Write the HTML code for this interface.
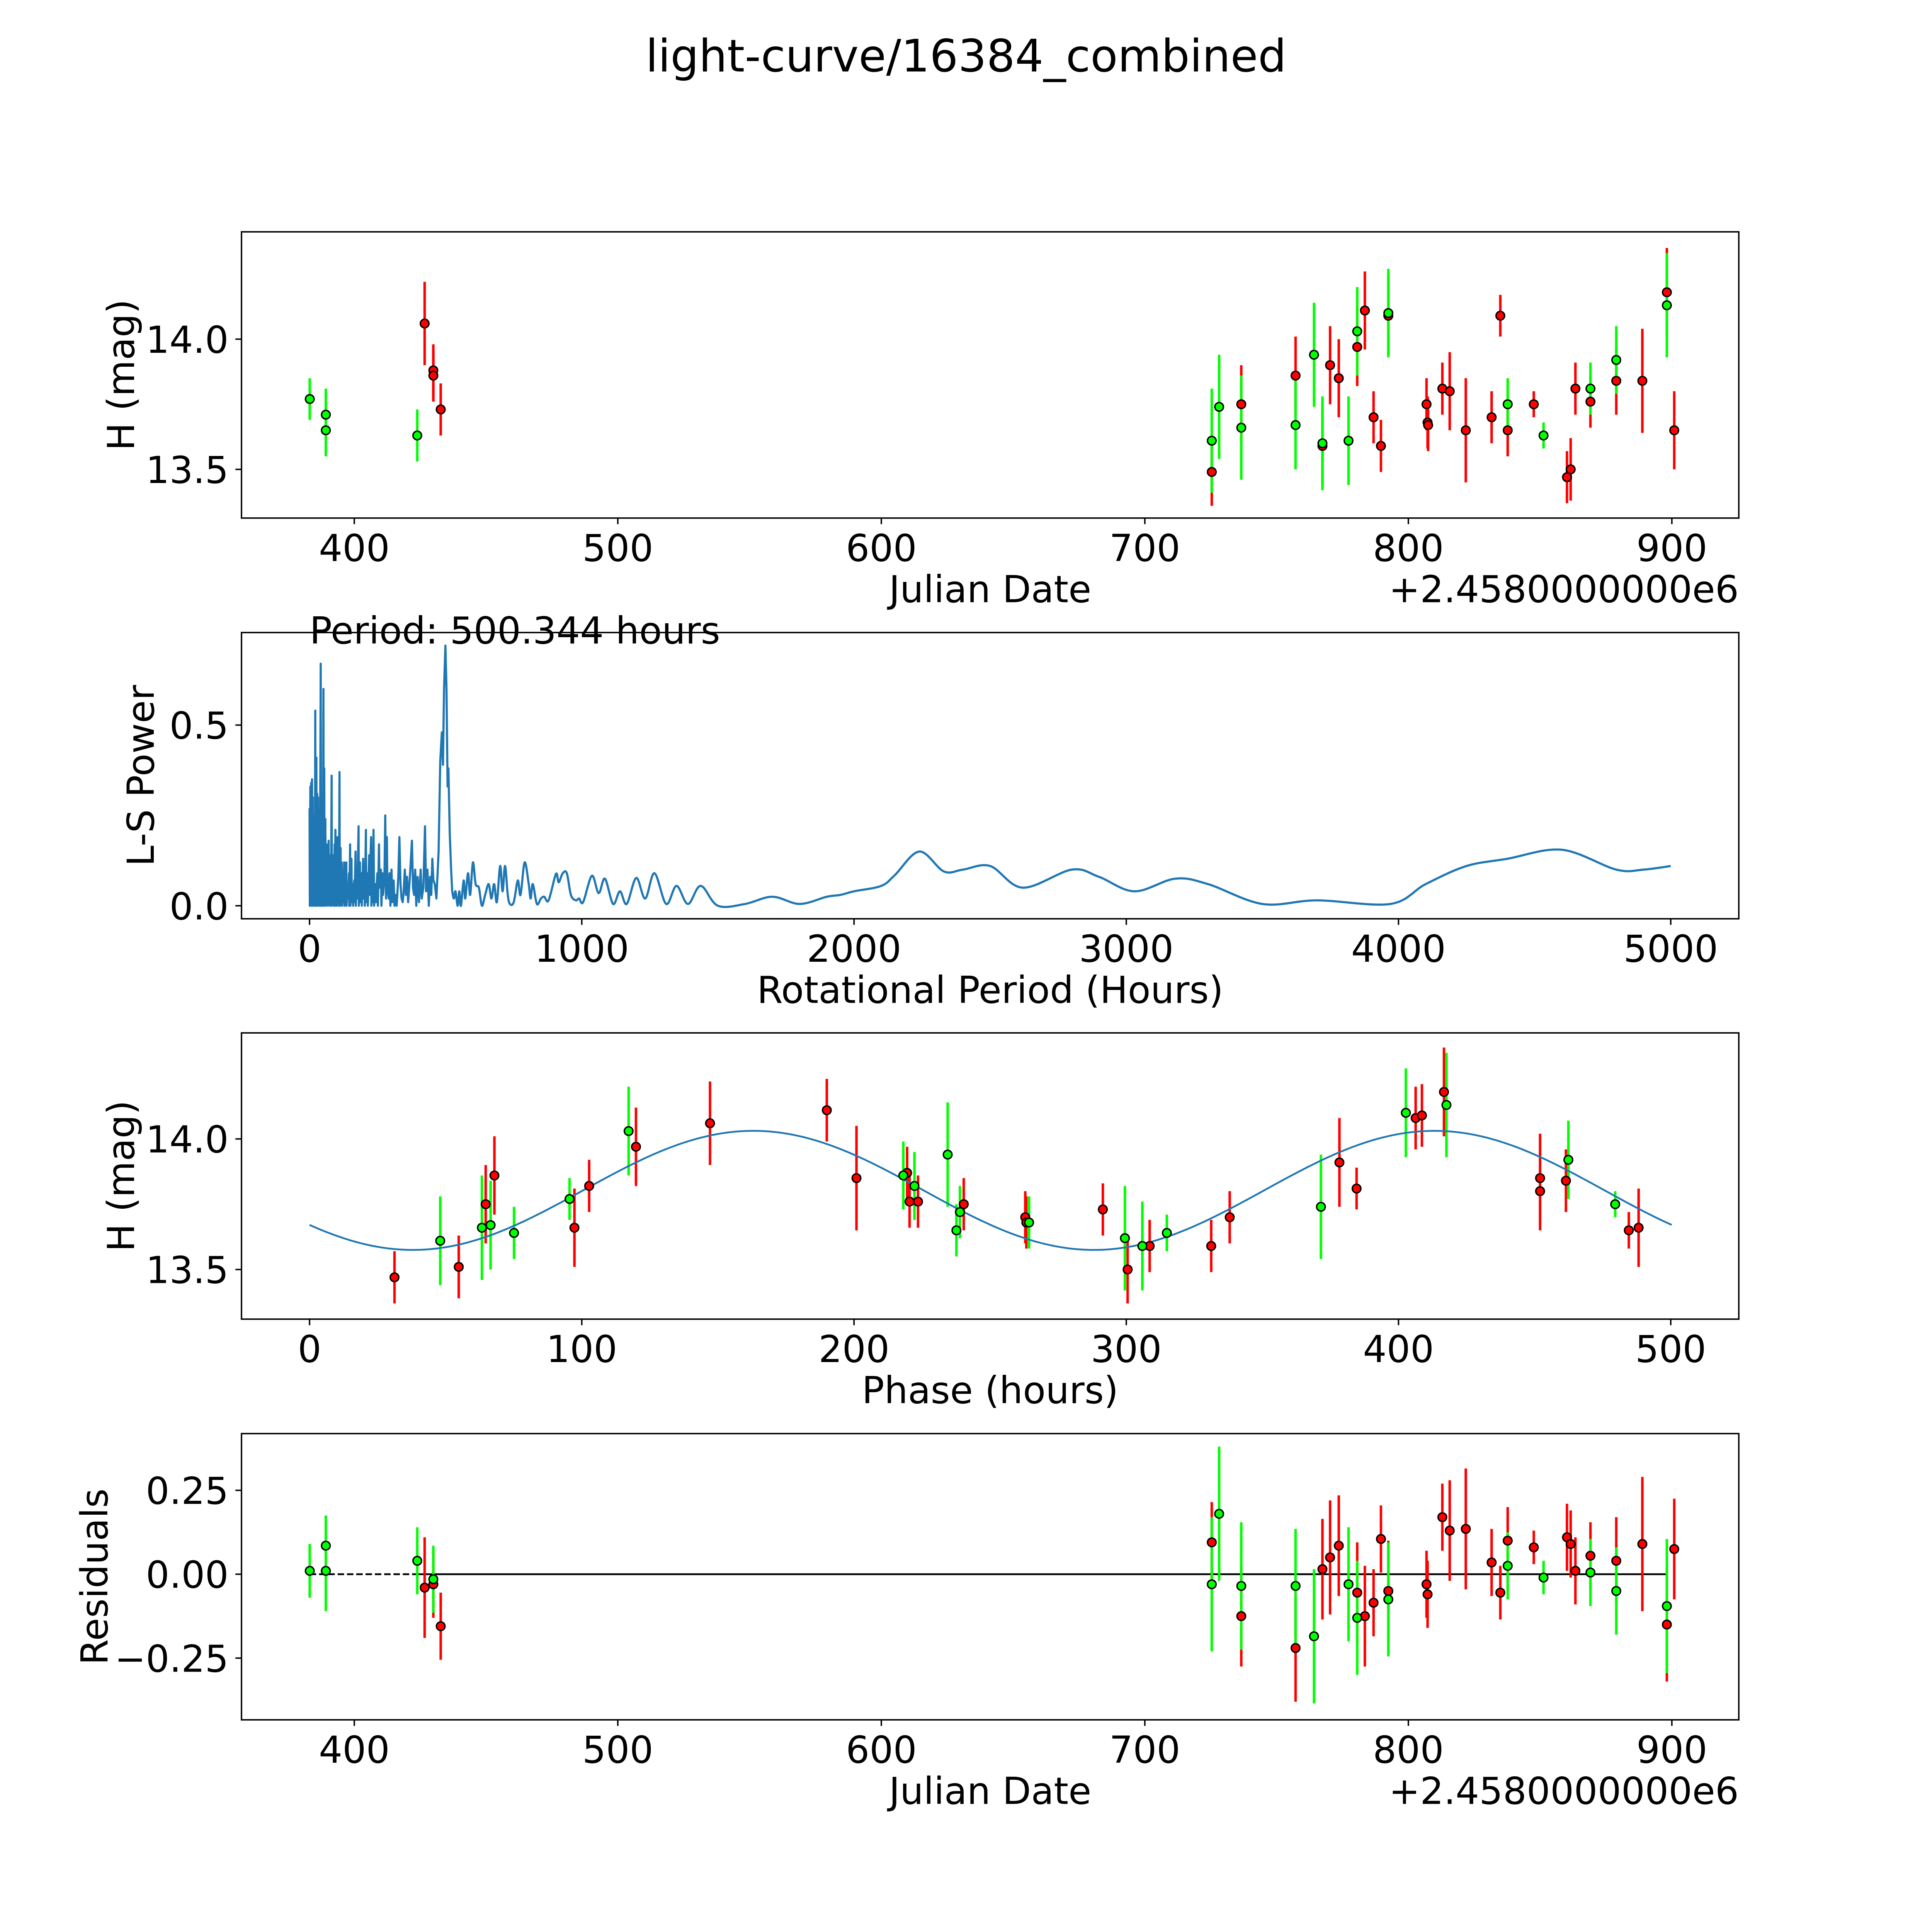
<!DOCTYPE html>
<html><head><meta charset="utf-8">
<style>
html,body{margin:0;padding:0;background:#fff;overflow:hidden;width:100%;height:100%;}
svg{display:block;position:fixed;left:0;top:0;width:100vw;height:100vh;}
text{font-family:"DejaVu Sans","Liberation Sans",sans-serif;fill:#000;}
</style></head>
<body>
<svg id="fig" xmlns="http://www.w3.org/2000/svg" viewBox="0 0 5400 5400" preserveAspectRatio="none">
<rect x="0" y="0" width="5400" height="5400" fill="#fff"/>
<text x="2700" y="200" text-anchor="middle" font-size="125">light-curve/16384_combined</text>
</svg>
<script>
// ---- Panel 1: light curve data ----
const greenJD  = [383.1,389.2,389.2,423.9,725.4,728.2,736.6,757.2,764.2,767.4,777.3,780.6,792.4,837.7,851.3,869.1,878.9,898.1];
const greenMag = [13.77,13.71,13.65,13.63,13.61,13.74,13.66,13.67,13.94,13.60,13.61,14.03,14.10,13.75,13.63,13.81,13.92,14.13];
const greenErr = [0.08,0.1,0.1,0.1,0.2,0.2,0.2,0.17,0.2,0.18,0.17,0.17,0.17,0.1,0.05,0.1,0.13,0.2];
const redJD  = [426.7,430,430,432.8,725.4,736.6,757.2,767.4,770.3,773.6,780.6,783.5,786.8,789.6,792.4,806.9,807.3,807.5,812.9,815.7,821.8,831.6,834.9,837.7,847.6,860.2,861.6,863.4,869.1,878.9,888.8,898.1,900.9];
const redMag = [14.06,13.88,13.86,13.73,13.49,13.75,13.86,13.59,13.90,13.85,13.97,14.11,13.70,13.59,14.09,13.75,13.68,13.67,13.81,13.80,13.65,13.70,14.09,13.65,13.75,13.47,13.50,13.81,13.76,13.84,13.84,14.18,13.65];
const redErr = [0.16,0.1,0.1,0.1,0.13,0.15,0.15,0.15,0.15,0.15,0.15,0.15,0.1,0.1,0.15,0.1,0.1,0.1,0.1,0.15,0.2,0.1,0.08,0.1,0.05,0.1,0.12,0.1,0.1,0.13,0.2,0.17,0.15];
const jdTicks = [400,500,600,700,800,900];
const magTicks = [13.5,14.0];
const magTickLabels = ["13.5","14.0"];

// ---- Panel 2: periodogram ----
const periodHours = [0,1,3,4,6,7,9,10,12,13,15,16,19,20,21,22,24,25,26,28,29,31,32,34,35,37,38,41,42,44,45,47,48,51,52,54,55,58,59,62,63,66,67,70,71,74,75,78,79,81,82,85,86,89,90,92,93,95,96,99,100,103,104,107,108,110,111,114,115,118,119,122,123,127,128,131,132,135,136,140,141,145,146,149,150,154,155,159,160,164,165,169,170,174,175,180,181,185,186,191,192,197,198,202,203,207,208,213,214,219,220,226,227,231,232,235,237,243,244,249,251,255,257,262,264,268,270,275,278,281,284,286,291,294,297,301,304,309,312,317,320,326,330,334,338,342,345,350,354,358,362,366,370,376,380,384,388,392,397,402,408,412,418,424,428,433,438,443,447,451,455,460,466,474,480,486,490,494,499,503,507,510,515,520,524];
const periodPower = [0.27,0.0,0.33,0.02,0.34,0.0,0.35,0.03,0.3,0,0.25,0.02,0.2,0,0.54,0,0.3,0.41,0,0.31,0.02,0.3,0,0.2,0.05,0.27,0,0.67,0,0.25,0.03,0.2,0,0.6,0,0.38,0.02,0.24,0,0.17,0.02,0.15,0,0.18,0.01,0.14,0,0.1,0.02,0.36,0,0.14,0.01,0.12,0,0.17,0,0.21,0.01,0.15,0,0.19,0.02,0.13,0,0.37,0,0.16,0.01,0.12,0,0.09,0.01,0.12,0,0.07,0.01,0.12,0,0.06,0.02,0.09,0,0.17,0,0.13,0.01,0.06,0,0.07,0.01,0.15,0,0.1,0.02,0.22,0,0.12,0.01,0.09,0,0.13,0.02,0.07,0,0.21,0.01,0.09,0,0.14,0.03,0.19,0,0.09,0.01,0.21,0,0.06,0.01,0.09,0,0.17,0.05,0.1,0,0.09,0.03,0.08,0.25,0.02,0.19,0.05,0.02,0.09,0,0.10,0.01,0.07,0,0.03,0,0.08,0.19,0.06,0.02,0.01,0.03,0.1,0.03,0.08,0.01,0.05,0.1,0.18,0.05,0.03,0.1,0,0.08,0.01,0.1,0.02,0.05,0.22,0.04,0.1,0,0.08,0.03,0.13,0.07,0.06,0.02,0.15,0.4,0.48,0.39,0.6,0.72,0.6,0.33,0.38,0.2,0.1,0.04];
const smoothHours = [524,530,536,544,550,556,566,572,582,590,600,610,622,633,645,658,668,678,688,700,709,718,728,736,750,765,775,790,805,812,820,835,850,862,878,905,915,930,945,960,978,990,1005,1037,1062,1085,1115,1140,1165,1200,1233,1267,1310,1348,1390,1437,1500,1600,1700,1800,1900,1950,2000,2100,2150,2240,2330,2400,2500,2620,2800,2900,3030,3180,3300,3500,3700,3970,4100,4250,4400,4600,4800,4900,5000];
const smoothPower = [0.04,0.02,0.04,0.0,0.04,0.0,0.07,0.02,0.09,0.03,0.12,0.06,0.05,0.0,0.03,0.06,0.02,0.06,0.01,0.11,0.04,0.11,0.03,0.005,0.01,0.07,0.03,0.12,0.06,0.02,0.06,0.005,0.02,0.025,0.015,0.088,0.065,0.09,0.09,0.03,0.015,0.02,0.01,0.083,0.035,0.075,0.005,0.04,0.005,0.077,0.02,0.09,0.005,0.055,0.005,0.055,0.0,0.005,0.025,0.005,0.025,0.03,0.04,0.055,0.085,0.15,0.095,0.1,0.11,0.05,0.1,0.08,0.04,0.075,0.06,0.005,0.015,0.005,0.06,0.11,0.13,0.155,0.1,0.1,0.11];
const periodTicks = [0,1000,2000,3000,4000,5000];
const powerTicks = [0.0,0.5];
const powerTickLabels = ["0.0","0.5"];
const bestPeriod = 500.344;

// ---- Panel 3: phased data ----
const greenPhase = [48,63.3,66.5,75.1,95.5,117.2,218.1,222.2,234.4,237.6,238.9,264.3,299.5,305.9,314.9,371.5,402.7,417.6,462.4,479.6];
const greenPhaseMag = [13.61,13.66,13.67,13.64,13.77,14.03,13.86,13.82,13.94,13.65,13.72,13.68,13.62,13.59,13.64,13.74,14.10,14.13,13.92,13.75];
const greenPhaseErr = [0.17,0.2,0.17,0.1,0.08,0.17,0.13,0.13,0.2,0.1,0.1,0.1,0.2,0.17,0.07,0.2,0.17,0.2,0.15,0.05];
const redPhase = [31.2,54.8,64.7,67.9,97.3,102.7,119.9,147.1,190,200.9,219.5,220.4,223.5,240.3,262.9,263.3,291.4,300.5,308.6,331.2,338,378.3,384.6,406.3,408.6,416.7,452,452,461.5,484.6,488.2];
const redPhaseMag = [13.47,13.51,13.75,13.86,13.66,13.82,13.97,14.06,14.11,13.85,13.87,13.76,13.76,13.75,13.70,13.68,13.73,13.50,13.59,13.59,13.70,13.91,13.81,14.08,14.09,14.18,13.85,13.80,13.84,13.65,13.66];
const redPhaseErr = [0.1,0.12,0.15,0.15,0.15,0.1,0.15,0.16,0.12,0.2,0.1,0.1,0.1,0.1,0.1,0.1,0.1,0.13,0.1,0.1,0.1,0.17,0.08,0.12,0.12,0.17,0.17,0.15,0.12,0.07,0.15];
const phaseTicks = [0,100,200,300,400,500];
const fitMean = 13.803;
const fitAmp = 0.228;
const fitPeakPhase = 163;

// ---- Panel 4: residuals ----
const greenResJD = [383.1,389.2,389.2,423.9,430,725.4,728.2,736.6,757.2,764.2,777.3,780.6,792.4,837.7,851.3,869.1,878.9,898.1];
const greenRes = [0.01,0.085,0.01,0.04,-0.015,-0.03,0.18,-0.035,-0.035,-0.185,-0.03,-0.13,-0.075,0.025,-0.01,0.005,-0.05,-0.095];
const greenResErr = [0.08,0.09,0.12,0.1,0.1,0.2,0.2,0.19,0.17,0.2,0.17,0.17,0.17,0.1,0.05,0.1,0.13,0.2];
const redResJD = [426.7,430,432.8,725.4,736.6,757.2,767.4,770.3,773.6,780.6,783.5,786.8,789.6,792.4,806.9,807.3,812.9,815.7,821.8,831.6,834.9,837.7,847.6,860.2,861.6,863.4,869.1,878.9,888.8,898.1,900.9];
const redRes = [-0.04,-0.03,-0.155,0.095,-0.125,-0.22,0.015,0.05,0.085,-0.055,-0.125,-0.085,0.105,-0.05,-0.03,-0.06,0.17,0.13,0.135,0.035,-0.055,0.1,0.08,0.11,0.09,0.01,0.055,0.04,0.09,-0.15,0.075];
const redResErr = [0.15,0.1,0.1,0.12,0.15,0.16,0.15,0.17,0.15,0.15,0.15,0.1,0.1,0.15,0.1,0.1,0.1,0.15,0.18,0.1,0.08,0.1,0.05,0.1,0.1,0.1,0.1,0.13,0.2,0.17,0.15];
const resTicks = [-0.25,0.0,0.25];
const resTickLabels = ["\u22120.25","0.00","0.25"];

const NS = "http://www.w3.org/2000/svg";
const svg = document.getElementById('fig');
const L = 675, R = 4860, H = 800;
const TOPS = [648,1768,2887,4007];
const FS = 104;

function mk(tag, attrs, parent){
  const e = document.createElementNS(NS, tag);
  for (const k in attrs) e.setAttribute(k, attrs[k]);
  (parent||svg).appendChild(e);
  return e;
}
function scale(d0,d1,r0,r1){ return v => r0 + (v-d0)/(d1-d0)*(r1-r0); }

function makeAxes(i, xd, yd, xt, xtl, yt, ytl, xlabel, ylabel, name){
  const top = TOPS[i], bot = top + H;
  const g = mk('g', {});
  
  
  const x = scale(xd[0], xd[1], L, R), y = scale(yd[0], yd[1], bot, top);
  const plot = mk('g', {}, g);
  
  
  const ax = mk('g', {}, g);
  
  
  xt.forEach((v, k) => {
    const px = x(v);
    const t = mk('line', {x1:px, x2:px, y1:bot, y2:bot+17, stroke:'#000', 'stroke-width':4}, ax);
    
    
    const lb = mk('text', {x:px, y:bot+120, 'text-anchor':'middle', 'font-size':FS}, ax);
    lb.textContent = xtl[k];
    
    
  });
  yt.forEach((v, k) => {
    const py = y(v);
    const t = mk('line', {x1:L-17, x2:L, y1:py, y2:py, stroke:'#000', 'stroke-width':4}, ax);
    
    
    const lb = mk('text', {x:L-36, y:py+38, 'text-anchor':'end', 'font-size':FS}, ax);
    lb.textContent = ytl[k];
    
    
  });
  const xl = mk('text', {x:(L+R)/2, y:bot+235, 'text-anchor':'middle', 'font-size':FS}, ax);
  xl.textContent = xlabel;
  
  
  const ly = ylabel.cx;
  const yl = mk('text', {x:0, y:0, 'text-anchor':'middle', 'font-size':FS, transform:`translate(${ly},${(top+bot)/2}) rotate(-90)`}, ax);
  yl.textContent = ylabel.text;
  
  
  const fr = mk('rect', {x:L, y:top, width:R-L, height:H, fill:'none', stroke:'#000', 'stroke-width':4}, ax);
  
  
  return {x, y, plot, ax, top, bot};
}

function errPoints(A, xs, ys, es, color, name){
  const eg = mk('g', {}, A.plot);
  
  
  xs.forEach((v, k) => {
    const l = mk('line', {x1:A.x(v), x2:A.x(v), y1:A.y(ys[k]-es[k]), y2:A.y(ys[k]+es[k]), stroke:color, 'stroke-width':7}, eg);
    
    
  });
  return () => {
    const mg = mk('g', {}, A.plot);
    
    
    xs.forEach((v, k) => {
      const c = mk('circle', {cx:A.x(v), cy:A.y(ys[k]), r:12, fill:color, stroke:'#000', 'stroke-width':4}, mg);
      
      
    });
  };
}

const jdLabels = jdTicks.map(String);
const offsetText = (A, name) => {
  const t = mk('text', {x:R, y:A.bot+235, 'text-anchor':'end', 'font-size':FS}, A.ax);
  t.textContent = '+2.4580000000e6';
  
  
};

// Panel 1
const A1 = makeAxes(0, [357.2,925.4], [13.313,14.412], jdTicks, jdLabels, magTicks, magTickLabels, 'Julian Date', {text:'H (mag)', cx:375}, 'light-curve');
offsetText(A1, 'light-curve');
const m1r = errPoints(A1, redJD, redMag, redErr, '#ff0000', 'light-curve-red');
const m1g = errPoints(A1, greenJD, greenMag, greenErr, '#00ff00', 'light-curve-green');
m1r(); m1g();

// Panel 2
const A2 = makeAxes(1, [-250,5250], [-0.036,0.756], periodTicks, periodTicks.map(String), powerTicks, powerTickLabels, 'Rotational Period (Hours)', {text:'L-S Power', cx:430}, 'periodogram');
(function(){
  let d = '';
  periodHours.forEach((h, k) => { d += (k ? 'L' : 'M') + A2.x(h).toFixed(1) + ',' + A2.y(periodPower[k]).toFixed(1); });
  const P = smoothHours.map((h, k) => [A2.x(h), A2.y(smoothPower[k])]);
  for (let k = 0; k < P.length - 1; k++){
    const p0 = P[Math.max(0,k-1)], p1 = P[k], p2 = P[k+1], p3 = P[Math.min(P.length-1,k+2)];
    const c1 = [p1[0]+(p2[0]-p0[0])/6, p1[1]+(p2[1]-p0[1])/6];
    const c2 = [p2[0]-(p3[0]-p1[0])/6, p2[1]-(p3[1]-p1[1])/6];
    if (k === 0) d += 'L' + p1[0].toFixed(1) + ',' + p1[1].toFixed(1);
    d += 'C' + c1[0].toFixed(1)+','+c1[1].toFixed(1)+' '+c2[0].toFixed(1)+','+c2[1].toFixed(1)+' '+p2[0].toFixed(1)+','+p2[1].toFixed(1);
  }
  const p = mk('path', {d, fill:'none', stroke:'#1f77b4', 'stroke-width':6, 'stroke-linejoin':'round'}, A2.plot);
  
  
  const t = mk('text', {x:A2.x(0), y:A2.top+31, 'font-size':FS}, A2.ax);
  t.textContent = 'Period: ' + bestPeriod.toFixed(3) + ' hours';
  
  
})();

// Panel 3
const A3 = makeAxes(2, [-25,525], [13.31,14.406], phaseTicks, phaseTicks.map(String), magTicks, magTickLabels, 'Phase (hours)', {text:'H (mag)', cx:375}, 'phased');
const m3r = errPoints(A3, redPhase, redPhaseMag, redPhaseErr, '#ff0000', 'phased-red');
const m3g = errPoints(A3, greenPhase, greenPhaseMag, greenPhaseErr, '#00ff00', 'phased-green');
(function(){
  let d = '';
  for (let i = 0; i <= 400; i++){
    const t = bestPeriod * i / 400;
    const m = fitMean + fitAmp * Math.cos(2*Math.PI*(t - fitPeakPhase) / (bestPeriod/2));
    d += (i ? 'L' : 'M') + A3.x(t).toFixed(1) + ',' + A3.y(m).toFixed(1);
  }
  const p = mk('path', {d, fill:'none', stroke:'#1f77b4', 'stroke-width':5}, A3.plot);
  
  
})();
m3r(); m3g();

// Panel 4
const A4 = makeAxes(3, [357.2,925.4], [-0.434,0.419], jdTicks, jdLabels, resTicks, resTickLabels, 'Julian Date', {text:'Residuals', cx:300}, 'residuals');
offsetText(A4, 'residuals');
(function(){
  const z1 = mk('line', {x1:A4.x(383.1), x2:A4.x(423.9), y1:A4.y(0), y2:A4.y(0), stroke:'#000', 'stroke-width':5, 'stroke-dasharray':'18,8'}, A4.plot);
  
  
  const z2 = mk('line', {x1:A4.x(423.9), x2:A4.x(898.1), y1:A4.y(0), y2:A4.y(0), stroke:'#000', 'stroke-width':5}, A4.plot);
  
  
})();
const m4r = errPoints(A4, redResJD, redRes, redResErr, '#ff0000', 'residuals-red');
const m4g = errPoints(A4, greenResJD, greenRes, greenResErr, '#00ff00', 'residuals-green');
m4r(); m4g();
</script>
</body></html>
